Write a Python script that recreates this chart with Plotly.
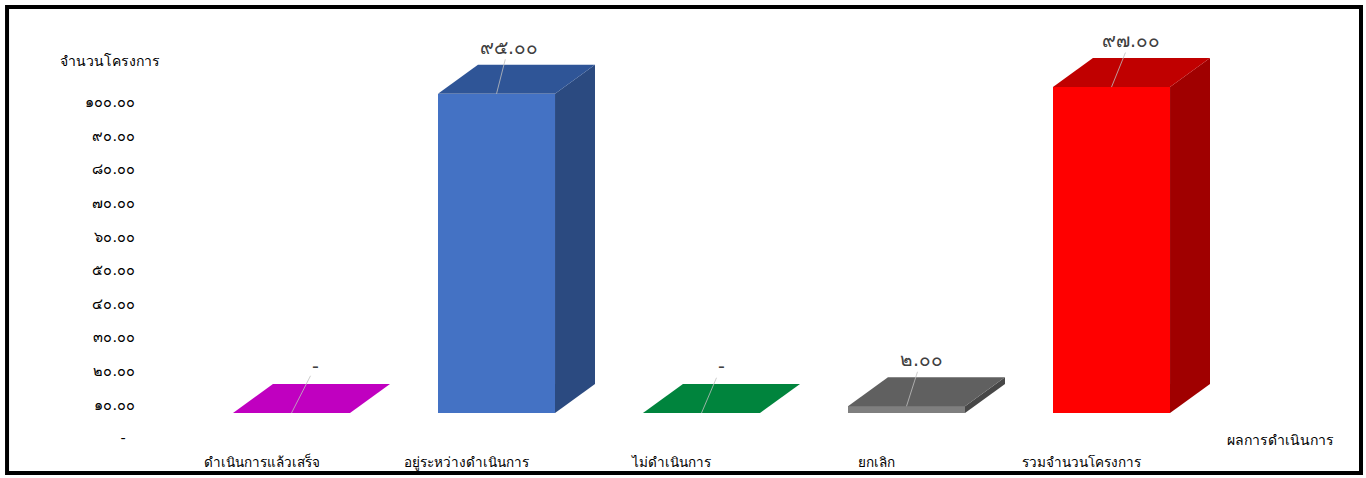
import plotly.graph_objects as go

# data
categories = ["ดำเนินการแล้วเสร็จ", "อยู่ระหว่างดำเนินการ", "ไม่ดำเนินการ", "ยกเลิก", "รวมจำนวนโครงการ"]
values = [0, 95, 0, 2, 97]
y_ticks = [0, 10, 20, 30, 40, 50, 60, 70, 80, 90, 100]

front_colors = ["#C000C0", "#4472C4", "#00843D", "#7F7F7F", "#FF0000"]
top_colors = ["#C000C0", "#2F5597", "#00843D", "#606060", "#C00000"]
side_colors = ["#9A009A", "#2B4A80", "#006A31", "#474747", "#A00000"]

# label offsets in px (leader line from bar top to label)
label_dx = [24, 12, 20, 15, 19]
label_dy = -47

BAR_W = 0.571      # front face width (category units)
DEPTH_X = 0.195    # oblique depth, x
DEPTH_Y = 8.63     # oblique depth, y (value units)
AXIS_SHIFT = 7.45  # back-wall labels sit lower than the front faces

THAI = "๐๑๒๓๔๕๖๗๘๙"


def thai_num(v):
    if v == 0:
        return "-"
    s = f"{v:,.2f}"
    return "".join(THAI[int(c)] if c.isdigit() else c for c in s)


FONT = "Tahoma, 'DejaVu Sans', sans-serif"

fig = go.Figure()
xs = list(range(len(categories)))

for i, v in enumerate(values):
    l, r = i - BAR_W / 2, i + BAR_W / 2
    # side face
    if v > 0:
        fig.add_trace(go.Scatter(
            x=[r, r + DEPTH_X, r + DEPTH_X, r, r],
            y=[0, DEPTH_Y, v + DEPTH_Y, v, 0],
            fill="toself", fillcolor=side_colors[i], mode="lines",
            line=dict(width=0, color=side_colors[i]), hoverinfo="skip", showlegend=False))
    # top face
    fig.add_trace(go.Scatter(
        x=[l, r, r + DEPTH_X, l + DEPTH_X, l],
        y=[v, v, v + DEPTH_Y, v + DEPTH_Y, v],
        fill="toself", fillcolor=top_colors[i], mode="lines",
        line=dict(width=0, color=top_colors[i]), hoverinfo="skip", showlegend=False))

# front faces
fig.add_trace(go.Bar(
    x=xs, y=values, width=BAR_W,
    marker=dict(color=front_colors, line=dict(width=0)),
    showlegend=False, hoverinfo="skip"))

# invisible trace so the labelled axis is drawn
fig.add_trace(go.Scatter(x=[None], y=[None], yaxis="y2", showlegend=False))

for i, v in enumerate(values):
    fig.add_annotation(
        x=i, y=v, text=thai_num(v), showarrow=True, arrowhead=0,
        arrowwidth=0.8, arrowcolor="#BFBFBF", ax=label_dx[i], ay=label_dy,
        font=dict(family=FONT, size=19, color="#404040"))

fig.add_annotation(x=-0.025, y=1.0, xref="paper", yref="paper", text="จำนวนโครงการ",
                   showarrow=False, xanchor="center", yanchor="middle",
                   yshift=-31, font=dict(family=FONT, size=14, color="black"))
fig.add_annotation(x=0.95, y=0.0, xref="paper", yref="paper", text="ผลการดำเนินการ",
                   showarrow=False, xanchor="center", yanchor="middle",
                   font=dict(family=FONT, size=14, color="black"))

# outer black frame
fig.add_shape(type="rect", xref="paper", yref="paper",
              x0=-0.1108, x1=1.0175, y0=-0.0805, y1=1.056,
              line=dict(color="black", width=4))

PX_PER_UNIT = 3.36
plot_h = 410
y_lo = -(440 - 413) / PX_PER_UNIT
y_hi = y_lo + plot_h / PX_PER_UNIT

fig.update_layout(
    width=1366, height=478,
    margin=dict(l=140, r=26, t=30, b=38),
    plot_bgcolor="white", paper_bgcolor="white",
    font=dict(family=FONT, size=13, color="black"),
    bargap=0,
    xaxis=dict(
        range=[(140 - 291.5) / 205, (1340 - 291.5) / 205], automargin=False,
        tickvals=xs, ticktext=categories, showgrid=False, zeroline=False,
        showline=False, ticks="", ticklabelshift=-30, ticklabelstandoff=12,
        tickfont=dict(family=FONT, size=13.5, color="black")),
    yaxis=dict(range=[y_lo, y_hi], visible=False, showgrid=False, zeroline=False,
               automargin=False),
    yaxis2=dict(
        range=[y_lo + AXIS_SHIFT, y_hi + AXIS_SHIFT], overlaying="y", side="left",
        automargin=False,
        tickvals=y_ticks, ticktext=[thai_num(t) + ("\u00a0" * 2 if t == 0 else "") for t in y_ticks],
        showgrid=False, zeroline=False, showline=False, ticks="",
        ticklabelstandoff=4, tickfont=dict(family=FONT, size=14.5, color="black")),
)

fig.write_html("out.html", config={"displayModeBar": False},
               post_script="document.body.style.margin='0';")
